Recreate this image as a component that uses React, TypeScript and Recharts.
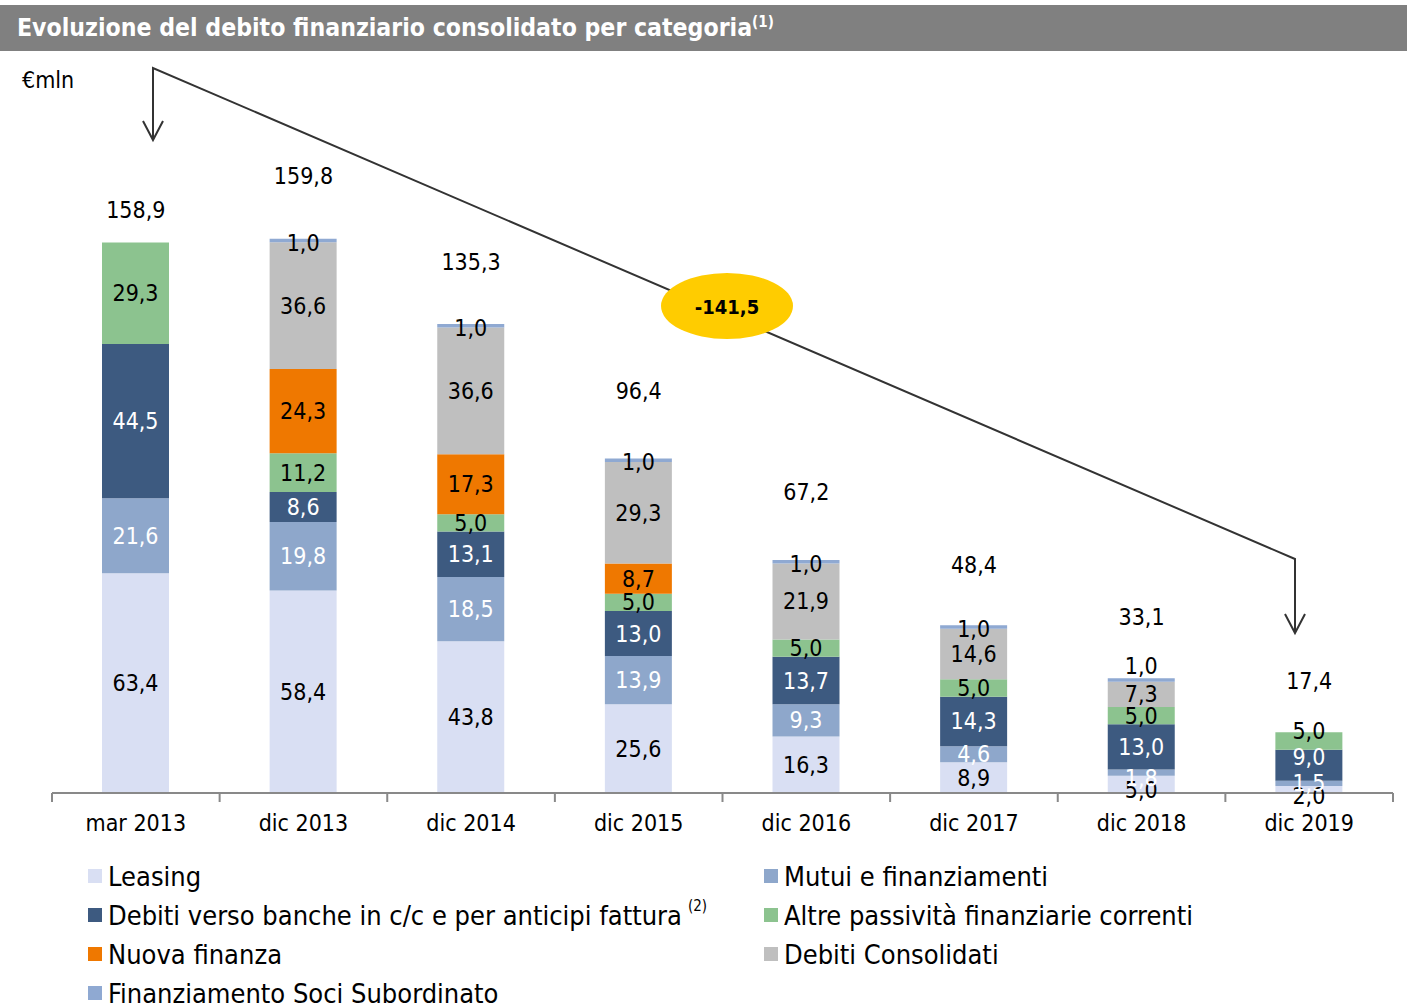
import React from 'react';
import { ComposedChart, Bar, Line, XAxis, YAxis, LabelList } from 'recharts';

const CATEGORIES = ['mar 2013', 'dic 2013', 'dic 2014', 'dic 2015', 'dic 2016', 'dic 2017', 'dic 2018', 'dic 2019'];
const LEASING = [63.4, 58.4, 43.8, 25.6, 16.3, 8.9, 5.0, 2.0];
const MUTUI = [21.6, 19.8, 18.5, 13.9, 9.3, 4.6, 1.8, 1.5];
const BANCHE = [44.5, 8.6, 13.1, 13.0, 13.7, 14.3, 13.0, 9.0];
const ALTRE = [29.3, 11.2, 5.0, 5.0, 5.0, 5.0, 5.0, 5.0];
const NUOVA = [0, 24.3, 17.3, 8.7, 0, 0, 0, 0];
const CONSOLIDATI = [0, 36.6, 36.6, 29.3, 21.9, 14.6, 7.3, 0];
const SOCI = [0, 1.0, 1.0, 1.0, 1.0, 1.0, 1.0, 0];
const TOTALS = [158.9, 159.8, 135.3, 96.4, 67.2, 48.4, 33.1, 17.4];
const DELTA_LABEL = '-141,5';

// label lift above each bar's total (style only)
const TOTAL_LABEL_LIFT = [32, 63, 62, 68, 68, 60, 61, 52];
// small vertical nudges of crowded segment labels (style only), keyed series-categoryIndex
const LABEL_NUDGE: Record<string, number> = {
  'soci-6': -14,
  'leasing-6': 6,
  'mutui-6': 5,
  'leasing-7': 6,
  'banche-7': -8,
  'altre-7': -10,
  'soci-1': 3,
  'soci-2': 2,
  'soci-3': 2,
  'soci-4': 2,
  'soci-5': 2,
};

const SERIES = [
  { key: 'leasing', name: 'Leasing', values: LEASING, color: '#D9DFF3', text: '#000000' },
  { key: 'mutui', name: 'Mutui e finanziamenti', values: MUTUI, color: '#8EA7CB', text: '#FFFFFF' },
  { key: 'banche', name: 'Debiti verso banche in c/c e per anticipi fattura', values: BANCHE, color: '#3D5A80', text: '#FFFFFF', sup: '(2)' },
  { key: 'altre', name: 'Altre passività finanziarie correnti', values: ALTRE, color: '#8CC38F', text: '#000000' },
  { key: 'nuova', name: 'Nuova finanza', values: NUOVA, color: '#EF7800', text: '#000000' },
  { key: 'consolidati', name: 'Debiti Consolidati', values: CONSOLIDATI, color: '#BFBFBF', text: '#000000' },
  { key: 'soci', name: 'Finanziamento Soci Subordinato', values: SOCI, color: '#8FA9D2', text: '#000000' },
];

const data = CATEGORIES.map((c, i) => {
  const row: any = { category: c, total: TOTALS[i] };
  SERIES.forEach((s) => { row[s.key] = s.values[i]; });
  return row;
});

const FONT = '"DejaVu Sans Condensed", "DejaVu Sans", sans-serif';
const W = 1407;
const H = 1004;
const XAXIS_H = 40;
const MARGIN = { top: 169, right: 14, bottom: 211 - XAXIS_H, left: 52 };
const BASE_Y = H - MARGIN.bottom - XAXIS_H;
const BAND = (W - MARGIN.left - MARGIN.right) / CATEGORIES.length;

const fmt = (v: number) => v.toFixed(1).replace('.', ',');
const catIndexAt = (cx: number) => Math.max(0, Math.min(CATEGORIES.length - 1, Math.floor((cx - MARGIN.left) / BAND)));

const segLabel = (key: string, color: string) => (props: any) => {
  const vb = props.viewBox || props;
  const x = vb.x ?? props.x;
  const y = vb.y ?? props.y;
  const w = vb.width ?? props.width;
  const h = vb.height ?? props.height;
  const v = Number(props.value);
  if (!v) return null;
  const cx = x + w / 2;
  const nudge = LABEL_NUDGE[`${key}-${catIndexAt(cx)}`] ?? 0;
  return (
    <text x={cx} y={y + h / 2 + nudge} textAnchor="middle" dominantBaseline="central" fill={color} fontSize={23} fontFamily={FONT}>
      {fmt(v)}
    </text>
  );
};

const totalLabel = (props: any) => {
  const vb = props.viewBox || props;
  const x = vb.x ?? props.x;
  const y = vb.y ?? props.y;
  const idx = catIndexAt(x);
  const lift = TOTAL_LABEL_LIFT[idx] ?? 60;
  return (
    <text x={x} y={y - lift} textAnchor="middle" dominantBaseline="central" fill="#000" fontSize={23} fontFamily={FONT}>
      {fmt(Number(props.value))}
    </text>
  );
};

const XTick = (props: any) => {
  const { x, payload } = props;
  const idx = catIndexAt(x);
  return (
    <g>
      <line x1={x - BAND / 2} x2={x - BAND / 2} y1={BASE_Y} y2={BASE_Y + 9} stroke="#898989" strokeWidth={2} />
      {idx === CATEGORIES.length - 1 && (
        <line x1={x + BAND / 2} x2={x + BAND / 2} y1={BASE_Y} y2={BASE_Y + 9} stroke="#898989" strokeWidth={2} />
      )}
      <text x={x} y={BASE_Y + 30} textAnchor="middle" dominantBaseline="central" fill="#000" fontSize={23} fontFamily={FONT}>
        {payload.value}
      </text>
    </g>
  );
};

const LegendBlock = () => (
  <div style={{ position: 'absolute', left: 0, top: 860, width: W, height: 144, fontFamily: FONT, fontSize: 27, color: '#000' }}>
    {SERIES.map((s, i) => {
      const col = i % 2;
      const row = Math.floor(i / 2);
      const left = col === 0 ? 88 : 764;
      const top = row * 39;
      return (
        <div key={s.key} style={{ position: 'absolute', left, top, height: 32, display: 'flex', alignItems: 'center', whiteSpace: 'nowrap' }}>
          <span style={{ display: 'inline-block', width: 14, height: 14, background: s.color, marginRight: 6 }} />
          <span>{s.name}</span>
          {s.sup && <span style={{ fontSize: 15, position: 'relative', top: -9, marginLeft: 6 }}>{s.sup}</span>}
        </div>
      );
    })}
  </div>
);

export default function App() {
  return (
    <div style={{ position: 'absolute', left: 0, top: 0, width: W, height: H, background: '#fff', overflow: 'hidden', fontFamily: FONT }}>
      <div style={{ position: 'absolute', left: 0, top: 5, width: W, height: 46, background: '#808080' }}>
        <div style={{ position: 'absolute', left: 17, top: 0, height: 46, lineHeight: '46px', color: '#fff', fontWeight: 'bold', fontSize: 24.6, whiteSpace: 'nowrap' }}>
          Evoluzione del debito finanziario consolidato per categoria
          <span style={{ fontSize: 15, position: 'relative', top: -9 }}>(1)</span>
        </div>
      </div>
      <div style={{ position: 'absolute', left: 22, top: 66, fontSize: 23, lineHeight: '28px', color: '#000' }}>€mln</div>
      <div style={{ position: 'absolute', left: 0, top: 0 }}>
        <ComposedChart width={W} height={H} data={data} margin={MARGIN}>
          <XAxis dataKey="category" axisLine={{ stroke: '#898989', strokeWidth: 2 }} tickLine={false} tick={<XTick />} interval={0} height={XAXIS_H} />
          <YAxis hide domain={[0, 180]} />
          {SERIES.map((s) => (
            <Bar key={s.key} dataKey={s.key} name={s.name} stackId="a" fill={s.color} barSize={67} isAnimationActive={false}>
              <LabelList dataKey={s.key} content={segLabel(s.key, s.text)} />
            </Bar>
          ))}
          <Line dataKey="total" stroke="none" dot={false} activeDot={false} legendType="none" isAnimationActive={false}>
            <LabelList dataKey="total" content={totalLabel} />
          </Line>
        </ComposedChart>
      </div>
      <LegendBlock />
      <svg width={W} height={H} style={{ position: 'absolute', left: 0, top: 0, pointerEvents: 'none' }}>
        <g stroke="#333" strokeWidth={2} fill="none">
          <polyline points="153,140 153,68 1295,559 1295,633" />
          <polyline points="143,121 153,140 163,121" />
          <polyline points="1285,614 1295,633 1305,614" />
        </g>
        <ellipse cx={727} cy={306} rx={66} ry={33} fill="#FFCC00" />
        <text x={727} y={307} textAnchor="middle" dominantBaseline="central" fontFamily={FONT} fontWeight="bold" fontSize={20} fill="#000">
          {DELTA_LABEL}
        </text>
      </svg>
    </div>
  );
}
